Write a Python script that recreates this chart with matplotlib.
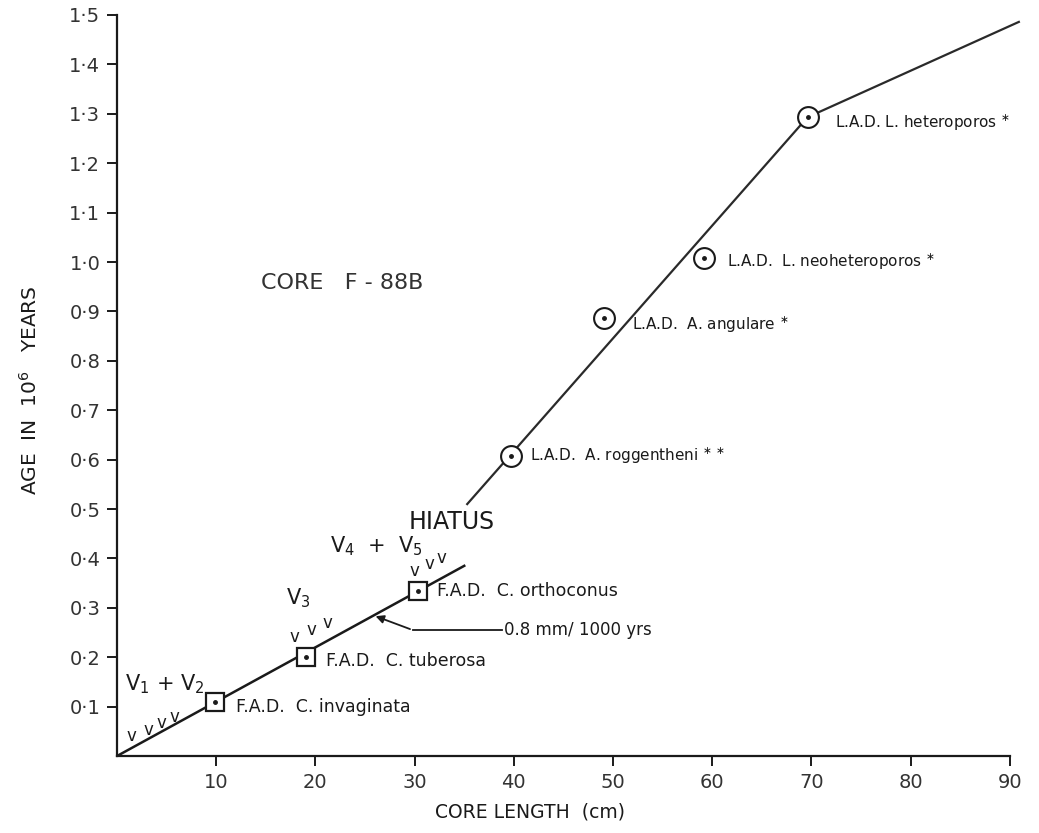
import matplotlib
matplotlib.use("Agg")
import matplotlib.pyplot as plt

# age model for core F-88B
fad_x = [9.9, 19.1, 30.3]
fad_y = [0.11, 0.20, 0.335]
fad_names = ["F.A.D.  C. invaginata", "F.A.D.  C. tuberosa", "F.A.D.  C. orthoconus"]

lad_x = [39.7, 49.1, 59.2, 69.6]
lad_y = [0.607, 0.887, 1.008, 1.293]
lad_names = ["L.A.D.  A. roggentheni", "L.A.D.  A. angulare",
             "L.A.D.  L. neoheteroporos", "L.A.D. L. heteroporos"]
lad_stars = ["**", "*", "*", "*"]

lower_x = [0, 35.0]
lower_y = [0, 0.385]
upper_x = [35.3, 69.6, 90.9]
upper_y = [0.51, 1.293, 1.486]

# volcanic ash layers (little v marks)
ash_labels = ["V$_1$ + V$_2$", "V$_3$", "V$_4$  +  V$_5$"]
ash_label_x = [0.8, 17.0, 21.5]
ash_label_y = [0.122, 0.295, 0.40]
ash_v_x = [[1.5, 3.2, 4.5, 5.8], [17.9, 19.6, 21.2], [30.0, 31.5, 32.7]]
ash_v_y = [[0.040, 0.053, 0.066, 0.080], [0.240, 0.255, 0.270], [0.375, 0.389, 0.400]]

xticks = [10, 20, 30, 40, 50, 60, 70, 80, 90]
yticks = [0.1, 0.2, 0.3, 0.4, 0.5, 0.6, 0.7, 0.8, 0.9, 1.0, 1.1, 1.2, 1.3, 1.4, 1.5]

FONT = ["DejaVu Sans Condensed", "DejaVu Sans"]
plt.rcParams["font.family"] = FONT
plt.rcParams["mathtext.fontset"] = "dejavusans"
INK = "#1a1a1a"

fig = plt.figure(figsize=(10.39, 8.33), dpi=100)
ax = fig.add_axes([0.1126, 0.0924, 0.972 - 0.1126, 0.982 - 0.0924])
ax.set_xlim(0, 90)
ax.set_ylim(0, 1.5)

for s in ["top", "right"]:
    ax.spines[s].set_visible(False)
for s in ["left", "bottom"]:
    ax.spines[s].set_linewidth(1.6)
    ax.spines[s].set_color(INK)

ax.set_xticks(xticks)
ax.set_xticklabels([str(t) for t in xticks])
ax.set_yticks(yticks)
ax.set_yticklabels([("%.1f" % t).replace(".", "\u00b7") for t in yticks])
ax.tick_params(axis="both", direction="out", length=7, width=1.4, color=INK,
               labelsize=14, labelcolor="#333333", pad=5)

# the two segments of the age-depth curve
ax.plot(lower_x, lower_y, color=INK, lw=1.8, zorder=2)
ax.plot(upper_x, upper_y, color="#2a2a2a", lw=1.6, zorder=2, clip_on=False)

# datum markers
ax.plot(fad_x, fad_y, ls="none", marker="s", ms=13, mfc="white", mec=INK, mew=1.6, zorder=3)
ax.plot(fad_x, fad_y, ls="none", marker="o", ms=2.5, color=INK, zorder=4)
ax.plot(lad_x, lad_y, ls="none", marker="o", ms=15, mfc="white", mec=INK, mew=1.5, zorder=3)
ax.plot(lad_x, lad_y, ls="none", marker="o", ms=2.5, color=INK, zorder=4)

fad_off = [(15, -4), (14, -3), (14, 0)]
for x, y, name, off in zip(fad_x, fad_y, fad_names, fad_off):
    ax.annotate(name, (x, y), xytext=off, textcoords="offset points",
                va="center", ha="left", fontsize=12.5, color=INK)

lad_off = [(14, 0), (20, -5), (16, -3), (20, -4)]
for x, y, name, star, off in zip(lad_x, lad_y, lad_names, lad_stars, lad_off):
    stars = "\\ast\\,\\ast" if len(star) == 2 else "\\ast"
    ax.annotate(name + " $^{" + stars + "}$",
                (x, y), xytext=off, textcoords="offset points", va="center", ha="left",
                fontsize=11, color=INK)

for lab, lx, ly, vx, vy in zip(ash_labels, ash_label_x, ash_label_y, ash_v_x, ash_v_y):
    ax.text(lx, ly, lab, fontsize=15, color=INK, ha="left", va="bottom")
    for x, y in zip(vx, vy):
        ax.text(x, y, "v", fontsize=12, color=INK, ha="center", va="center")

ax.text(33.7, 0.474, "HIATUS", fontsize=17, color=INK, ha="center", va="center")
ax.text(14.5, 0.957, "CORE   F - 88B", fontsize=16, color="#333333", ha="left", va="center")

# sedimentation-rate callout
ax.annotate("", xy=(25.8, 0.285), xytext=(29.8, 0.255),
            arrowprops=dict(arrowstyle="-|>", color=INK, lw=1.3, mutation_scale=12))
ax.plot([29.8, 38.8], [0.255, 0.255], color=INK, lw=1.3)
ax.text(39.0, 0.255, "0.8 mm/ 1000 yrs", fontsize=12, color=INK, ha="left", va="center")

fig.text(530 / 1039, 1 - 812 / 833, "CORE LENGTH  (cm)", fontsize=13.5, color=INK,
         ha="center", va="center")
fig.text(30 / 1039, 1 - 390 / 833, "AGE  IN  10$^6$   YEARS", fontsize=14.5, color=INK,
         ha="center", va="center", rotation=90)

fig.savefig("out.png", dpi=100)
